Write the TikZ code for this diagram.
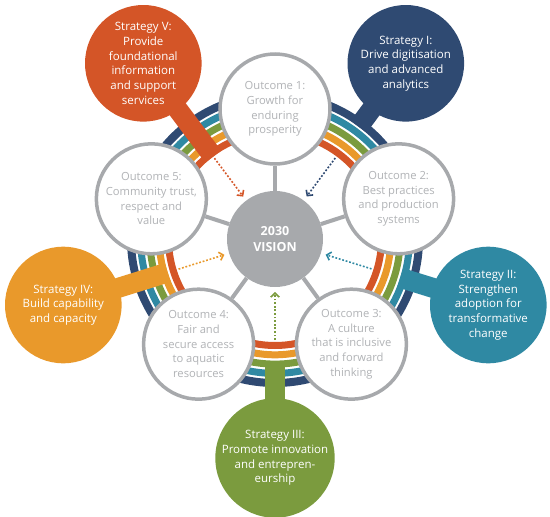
\documentclass[tikz,border=0pt]{standalone}
\usepackage{fontspec}
\setmainfont{Open Sans}
\usetikzlibrary{calc,arrows.meta}
\definecolor{cI}{HTML}{2F4A72}
\definecolor{cII}{HTML}{2F89A3}
\definecolor{cIII}{HTML}{7B9B3E}
\definecolor{cIV}{HTML}{E9992B}
\definecolor{cV}{HTML}{D45527}
\definecolor{cgray}{HTML}{A7A9AC}
\definecolor{ctext}{HTML}{B1B3B6}
\begin{document}
\begin{tikzpicture}[x=1pt,y=-1pt,
  strat/.style={circle,fill=#1,minimum size=116.6pt,inner sep=0pt,text=white,align=center,font=\fontsize{11.5}{14.7}\selectfont},
  outc/.style={circle,draw=cgray,line width=3.5pt,fill=white,minimum size=110pt,inner sep=0pt,text=ctext,align=center,font=\fontsize{11.2}{14.7}\selectfont},
  vis/.style={circle,fill=cgray,minimum size=96pt,inner sep=0pt,text=white,align=center,font=\bfseries\fontsize{12.5}{15.7}\selectfont},
  spoke/.style={draw=cgray,line width=4pt},
  ringlayer/.style={draw=#1,line width=7pt},
  barline/.style={draw=#1,line width=20pt},
  dotarrow/.style={draw=#1,line width=1.6pt,dash pattern=on 1.8pt off 1.8pt,-{Straight Barb[length=4pt,width=8.5pt]}}
]
\useasboundingbox (0,0) rectangle (550,517);
\coordinate (c) at (275,239);
% strategy centres
\coordinate (p1) at (405.8,63.3);
\coordinate (p2) at (488.3,305);
\coordinate (p3) at (275,458);
\coordinate (p4) at (63.3,305);
\coordinate (p5) at (143.3,63.3);
% rainbow ring
\draw[ringlayer=cV] (c) circle[radius=106.5pt];
\draw[ringlayer=cIV] (c) circle[radius=115.8pt];
\draw[ringlayer=cIII] (c) circle[radius=125.1pt];
\draw[ringlayer=cII] (c) circle[radius=134.4pt];
\draw[draw=cI,line width=8pt] (c) circle[radius=144pt];
% bar ends
\coordinate (b1) at ($(c)!140pt!(p1)$);
\coordinate (b2) at ($(c)!131pt!(p2)$);
\coordinate (b3) at ($(c)!121.8pt!(p3)$);
\coordinate (b4) at ($(c)!112.4pt!(p4)$);
\coordinate (b5) at ($(c)!103pt!(p5)$);
\draw[barline=cI] (p1) -- (b1);
\draw[barline=cII] (p2) -- (b2);
\draw[barline=cIII] (p3) -- (b3);
\draw[barline=cIV] (p4) -- (b4);
\draw[barline=cV] (p5) -- (b5);
% strategies
\node[strat=cI] (s1) at (p1) {Strategy I:\\Drive digitisation\\and advanced\\analytics};
\node[strat=cII] (s2) at (p2) {Strategy II:\\Strengthen\\adoption for\\transformative\\change};
\node[strat=cIII] (s3) at (p3) {Strategy III:\\Promote innovation\\and entrepren-\\eurship};
\node[strat=cIV] (s4) at (p4) {Strategy IV:\\Build capability\\and capacity};
\node[strat=cV] (s5) at (p5) {Strategy V:\\Provide\\foundational\\information\\and support\\services};
% outcomes
\node[outc] (o1) at ($(c)+(90:130pt)$) {Outcome 1:\\Growth for\\enduring\\prosperity};
\node[outc] (o2) at ($(c)+(18:130pt)$) {Outcome 2:\\Best practices\\and production\\systems};
\node[outc] (o3) at ($(c)+(-54:130pt)$) {Outcome 3:\\A culture\\that is inclusive\\and forward\\thinking};
\node[outc] (o4) at ($(c)+(-126:130pt)$) {Outcome 4:\\Fair and\\secure access\\to aquatic\\resources};
\node[outc] (o5) at ($(c)+(162:130pt)$) {Outcome 5:\\Community trust,\\respect and\\value};
% vision
\node[vis] (v) at (c) {2030\\VISION};
\foreach \o in {o1,o2,o3,o4,o5} \draw[spoke] (v) -- (\o);
% dotted arrows
\foreach \i/\col in {1/cI,2/cII,3/cIII,4/cIV,5/cV}{
  \coordinate (as\i) at ($(c)!101pt!(p\i)$);
  \coordinate (ae\i) at ($(c)!53pt!(p\i)$);
  \draw[dotarrow=\col] (as\i) -- (ae\i);
}
\end{tikzpicture}
\end{document}
